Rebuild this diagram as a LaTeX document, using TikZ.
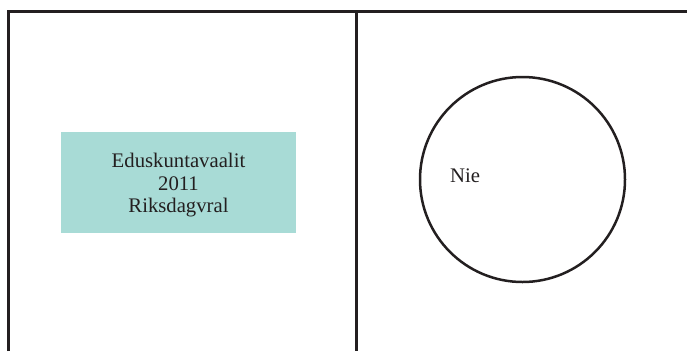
\documentclass[tikz,border=0pt]{standalone}
\usepackage{fontspec}
\setmainfont{Liberation Serif}
\usepackage{tikz}
\definecolor{tealbox}{HTML}{A8DBD6}
\definecolor{framegray}{HTML}{231F20}
\tikzset{
    frame/.style={draw=framegray, line width=3bp},
    label box/.style={fill=tealbox, minimum width=235bp, minimum height=101bp, inner sep=0pt},
    label text/.style={align=center, font=\fontsize{20.8}{22.6}\selectfont, text=framegray, inner sep=0pt},
    ring/.style={draw=framegray, line width=2.5bp, circle, minimum size=205bp, inner sep=0pt},
}
\begin{document}
\begin{tikzpicture}[x=1bp, y=-1bp]
    \useasboundingbox (0,0) rectangle (687,351);
    \draw[frame] (8.5,351) -- (8.5,11.5) -- (687,11.5);
    \draw[frame] (356,11.5) -- (356,351);
    \node[label box] (vaalit) at (178.5,182.5) {};
    \node[label text] (vaalitteksti) at ([yshift=-3bp]vaalit.center) {Eduskuntavaalit\\2011\\Riksdagvral};
    \node[ring] (ympyra) at (522.5,179.5) {};
    \node[label text, anchor=base west] (nie) at (450,182) {Nie};
\end{tikzpicture}
\end{document}
